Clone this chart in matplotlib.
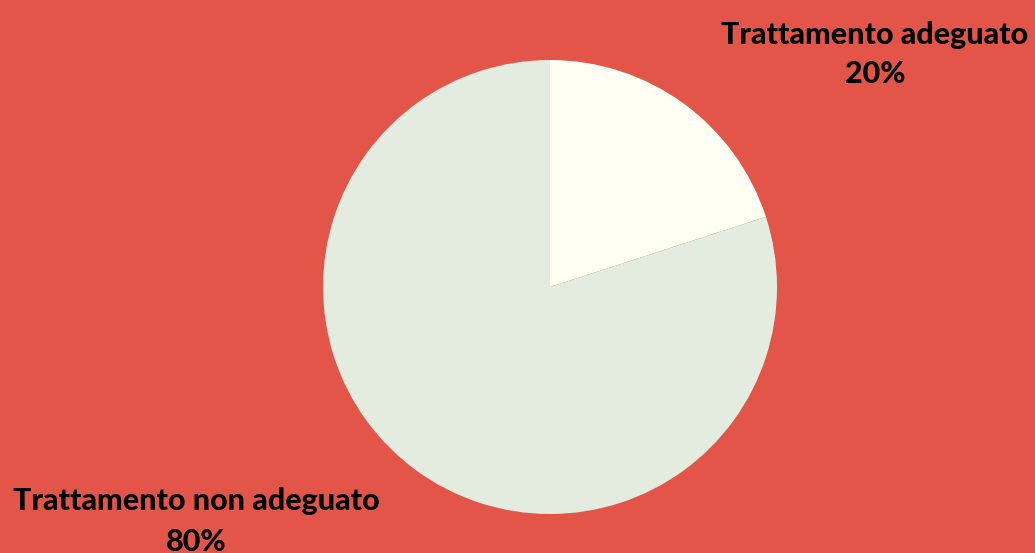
import matplotlib.pyplot as plt

labels = ["Trattamento adeguato", "Trattamento non adeguato"]
values = [20, 80]
colors = ["#FFFFF3", "#E4EBDF"]
bg = "#E35549"

fig = plt.figure(figsize=(10.35, 5.53), dpi=100, facecolor=bg)
ax = fig.add_axes([0, 0, 1, 1])

ax.pie(values, colors=colors, startangle=90, counterclock=False,
       center=(550, 266), radius=227, frame=True,
       wedgeprops=dict(edgecolor="none"))
ax.set_xlim(0, 1035)
ax.set_ylim(0, 553)
ax.set_aspect("equal")
ax.axis("off")

font = dict(family=["Lato", "DejaVu Sans"], fontweight="black", fontsize=22,
            color="black", ha="center", va="center")
# label text: name + percentage
ax.text(875, 518, labels[0], **font)
ax.text(875, 479, f"{values[0]}%", **font)
ax.text(196, 52, labels[1], **font)
ax.text(196, 11, f"{values[1]}%", **font)

fig.savefig("out.png", dpi=100, facecolor=bg)
